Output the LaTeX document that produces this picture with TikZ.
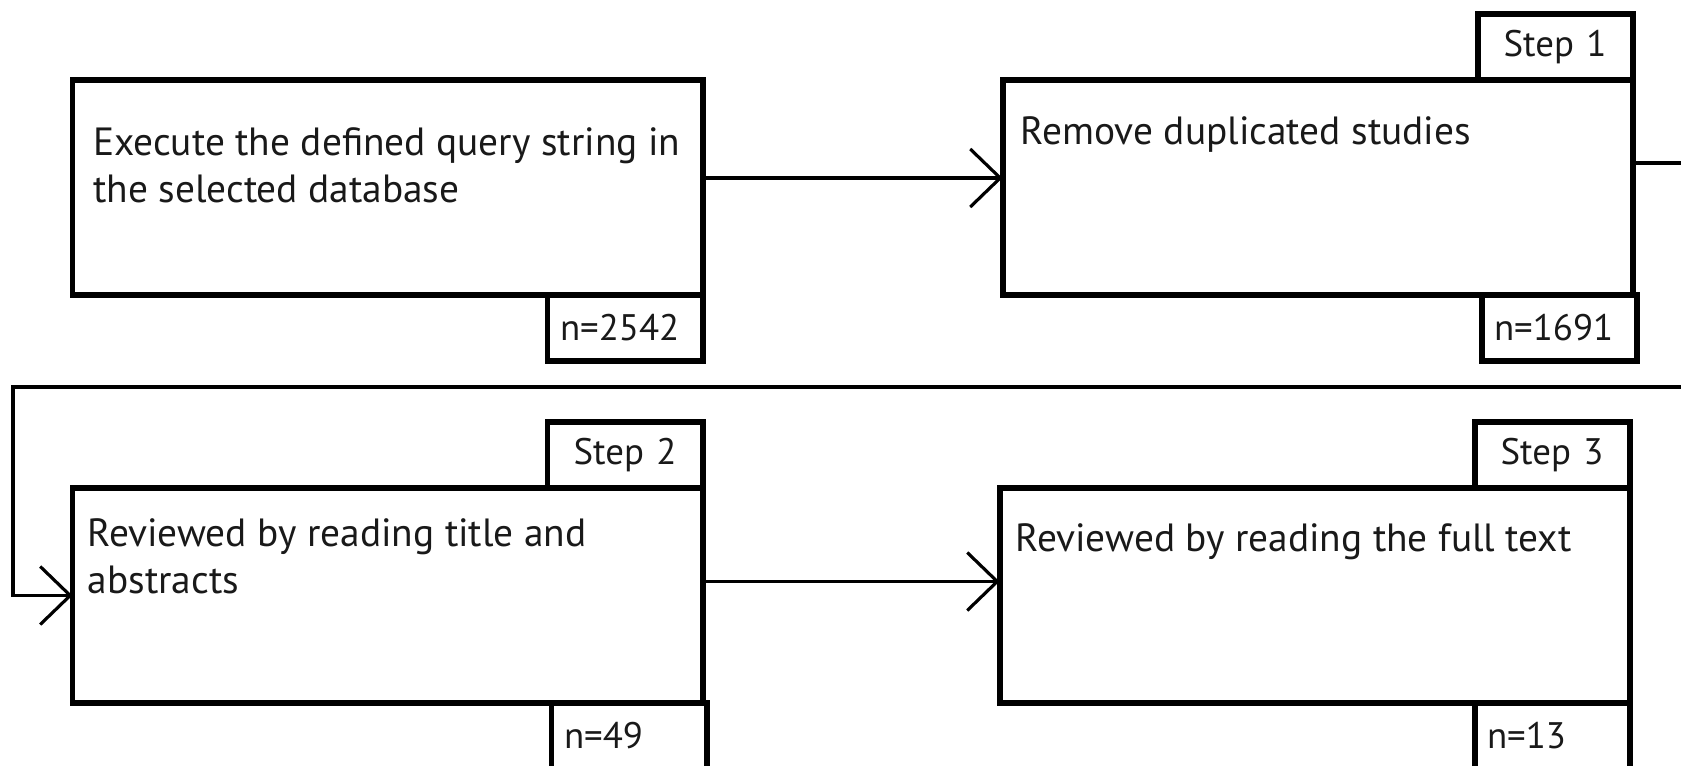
\documentclass[tikz,border=0pt]{standalone}
\usepackage{fontspec}
\setmainfont{PT Sans}
\usetikzlibrary{positioning,arrows.meta}

\begin{document}
\begin{tikzpicture}[
   stagebox/.style={draw, line width=1.7pt, minimum width=6.3cm, minimum height=2.15cm, outer sep=0pt, inner sep=0pt},
   stagetext/.style={anchor=base west, align=left, inner sep=0pt, text=black!90, font=\fontsize{11.2}{13.2}\selectfont},
   tabbox/.style={draw, line width=1.7pt, minimum height=0.66cm, text width=1.3cm, inner xsep=0.125cm, outer sep=0pt, text=black!90, font=\fontsize{10.5}{12}\selectfont},
   steptab/.style={tabbox, align=center},
   ntab/.style={tabbox, align=left},
   flow/.style={line width=0.9pt, -{Straight Barb[length=3mm, width=5.8mm]}}
   ]
   \useasboundingbox (0,0) rectangle (16.81,-7.65);
   \clip (0,0) rectangle (16.81,-7.65);

   % the four stages
   \node[stagebox] (query) at (3.875,-1.875) {};
   \node[stagebox] (dup) [right=3cm of query] {};
   \node[stagebox] (abstr) [below=1.93cm of query] {};
   \node[stagebox] (full) [right=2.97cm of abstr] {};

   % texts (base = baseline of the last line)
   \node[stagetext] (querytxt) at ([shift={(0.2cm,-1.22cm)}]query.north west)
   {Execute the defined query string in\\ the selected database};
   \node[stagetext] (duptxt) at ([shift={(0.175cm,-0.645cm)}]dup.north west)
   {Remove duplicated studies};
   \node[stagetext] (abstrtxt) at ([shift={(0.145cm,-1.05cm)}]abstr.north west)
   {Reviewed by reading title and\\ abstracts};
   \node[stagetext] (fulltxt) at ([shift={(0.155cm,-0.635cm)}]full.north west)
   {Reviewed by reading the full text};

   % step tabs on top
   \node[steptab] (step1) [above left=0cm and 0cm of dup.north east] {Step 1};
   \node[steptab] (step2) [above left=0cm and 0cm of abstr.north east] {Step 2};
   \node[steptab] (step3) [above left=0cm and 0cm of full.north east] {Step 3};

   % counts below
   \node[ntab] (n1) [below left=0cm and 0cm of query.south east] {n=2542};
   \node[ntab, xshift=0.04cm] (n2) [below left=0cm and 0cm of dup.south east] {n=1691};
   \node[ntab, xshift=0.04cm] (n3) [below left=0cm and 0cm of abstr.south east] {n=49};
   \node[ntab] (n4) [below left=0cm and 0cm of full.south east] {n=13};

   % connectors
   \coordinate (qout) at ([yshift=0.095cm]query.east);
   \coordinate (dout) at ([yshift=0.245cm]dup.east);
   \coordinate (aout) at ([yshift=0.14cm]abstr.east);
   \coordinate (wrapR) at (17.3,-3.87);
   \coordinate (wrapL) at (0.13,-3.87);

   \draw[flow] (qout) -- (qout -| dup.west);
   \draw[flow] (dout) -| (wrapR) -- (wrapL) |- (abstr.west);
   \draw[flow] (aout) -- (aout -| full.west);
\end{tikzpicture}
\end{document}
